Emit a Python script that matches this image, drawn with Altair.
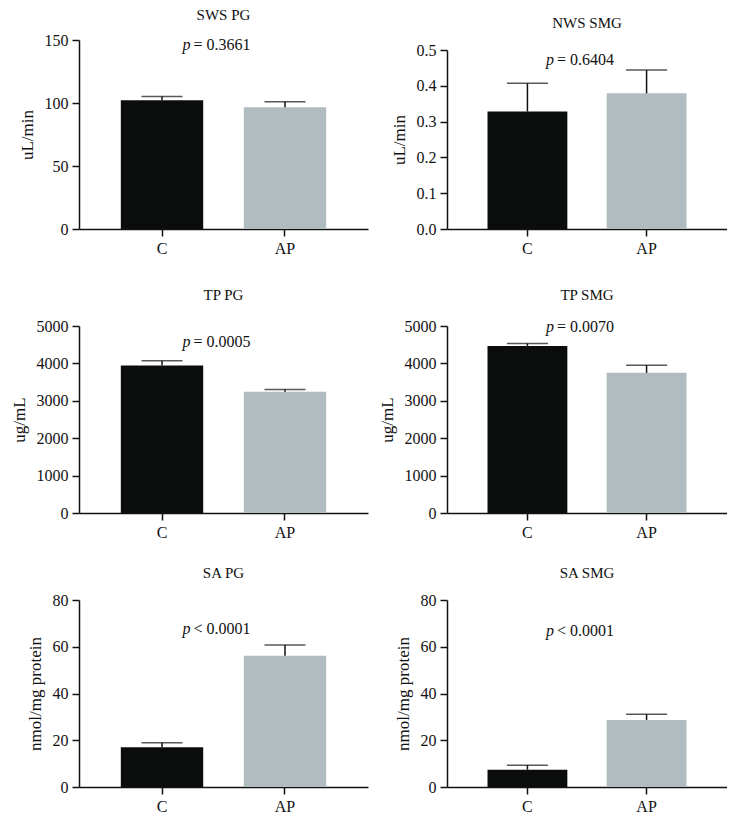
import altair as alt
import pandas as pd

# ---------------- data ----------------
panel_titles = ["SWS PG", "NWS SMG", "TP PG", "TP SMG", "SA PG", "SA SMG"]
groups = ["C", "AP"]
mean_c = [102.2, 0.328, 3943, 4467, 17.0, 7.4]
mean_ap = [96.6, 0.379, 3242, 3748, 56.1, 28.7]
sem_c = [3.0, 0.079, 125, 63, 1.9, 1.9]
sem_ap = [4.4, 0.065, 62, 204, 4.7, 2.4]
y_titles = ["uL/min", "uL/min", "ug/mL", "ug/mL", "nmol/mg protein", "nmol/mg protein"]
y_max = [150, 0.5, 5000, 5000, 80, 80]
y_ticks = [
    [0, 50, 100, 150],
    [0.0, 0.1, 0.2, 0.3, 0.4, 0.5],
    [0, 1000, 2000, 3000, 4000, 5000],
    [0, 1000, 2000, 3000, 4000, 5000],
    [0, 20, 40, 60, 80],
    [0, 20, 40, 60, 80],
]
y_formats = ["d", ".1f", "d", "d", "d", "d"]
p_rel = ["= 0.3661", "= 0.6404", "= 0.0005", "= 0.0070", "< 0.0001", "< 0.0001"]
p_label_y = [146, 0.472, 4572, 4973, 67.5, 66.7]   # annotation height, data units

# ---------------- layout / style ----------------
colors = ["#0b0d0d", "#b1bcc0"]
INK = "#111111"
FONT = "Liberation Serif"
widths = [289, 280] * 3
heights = [189, 189, 197, 197, 187, 187]
range_top = [0, 10, 10, 10, 0, 0]
title_offset = [9, 9, 13, 13, 11, 11]


def panel(i):
    df = pd.DataFrame({
        "group": groups,
        "value": [mean_c[i], mean_ap[i]],
        "upper": [mean_c[i] + sem_c[i], mean_ap[i] + sem_ap[i]],
    })
    W, H = widths[i], heights[i]
    xscale = alt.Scale(domain=groups, paddingInner=0.33, paddingOuter=0.34)
    yscale = alt.Scale(domain=[0, y_max[i]], nice=False, range=[H, range_top[i]])
    xaxis = alt.Axis(labelAngle=0, labelFontSize=16, labelPadding=4,
                     tickSize=7, labelFont=FONT, title=None)
    yaxis = alt.Axis(values=y_ticks[i], format=y_formats[i], grid=False,
                     labelFontSize=16, titleFontSize=17, labelFont=FONT,
                     titleFont=FONT, labelOverlap=False,
                     titleFontWeight="normal", titlePadding=8,
                     tickSize=7, labelPadding=4, title=y_titles[i])

    def X():
        return alt.X("group:N", sort=groups, title=None, scale=xscale, axis=xaxis)

    def Y(field):
        return alt.Y(field, scale=yscale, title=y_titles[i], axis=yaxis)

    base = alt.Chart(df)
    bars = base.mark_bar().encode(
        x=X(), y=Y("value:Q"),
        color=alt.Color("group:N", scale=alt.Scale(domain=groups, range=colors),
                        legend=None),
    )
    rule = base.mark_rule(color=INK, strokeWidth=1.5).encode(
        x=X(), y=Y("value:Q"), y2="upper:Q")
    cap = base.mark_tick(color=INK, thickness=1.5, size=41).encode(
        x=X(), y=Y("upper:Q"))
    ann = pd.DataFrame({"y": [p_label_y[i]], "rest": [p_rel[i]]})
    shift = -33
    p_it = alt.Chart(ann).mark_text(text="p", fontStyle="italic", fontSize=16,
                                    font=FONT, align="right", baseline="middle",
                                    color=INK, dx=shift).encode(
        x=alt.value(W / 2), y=Y("y:Q"))
    p_txt = alt.Chart(ann).mark_text(fontSize=16, font=FONT, align="left",
                                     baseline="middle", color=INK,
                                     dx=shift + 3).encode(
        x=alt.value(W / 2), y=Y("y:Q"), text="rest:N")
    return alt.layer(bars, rule, cap, p_it, p_txt).properties(
        width=W, height=H,
        title=alt.TitleParams(panel_titles[i], fontSize=15, font=FONT,
                              fontWeight="normal", offset=title_offset[i],
                              anchor="middle", color=INK),
    )


chart = alt.concat(*[panel(i) for i in range(6)], columns=2,
                   spacing={"row": 87, "column": 79}, bounds="flush").properties(
    padding={"left": 2, "top": 0, "right": 0, "bottom": 0}
).configure(font=FONT).configure_view(stroke=None).configure_axis(
    domainColor=INK, tickColor=INK, domainWidth=1.5, tickWidth=1.5,
    labelColor=INK, titleColor=INK, labelFont=FONT, titleFont=FONT,
).configure_title(fontWeight="normal", font=FONT)

chart.save("out.html", embed_options={"renderer": "svg", "actions": False})
